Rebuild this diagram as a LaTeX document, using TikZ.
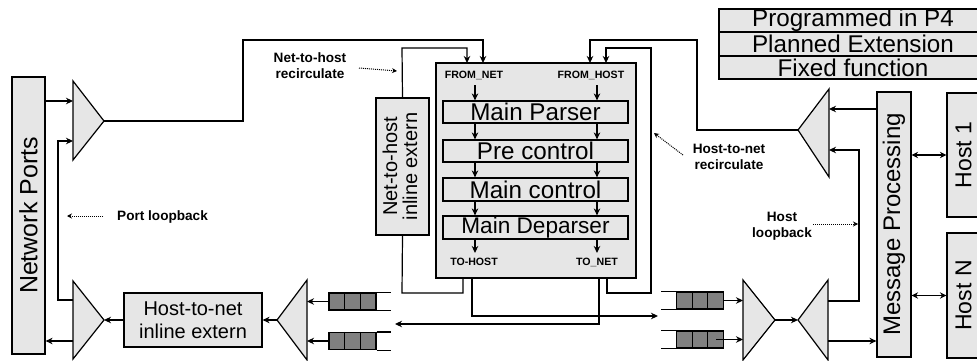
\documentclass[tikz,border=0pt]{standalone}
\usepackage{fontspec}
\setmainfont{Liberation Sans}
\usetikzlibrary{arrows.meta}
\definecolor{lg}{HTML}{E6E6E6}
\definecolor{dg}{HTML}{808080}
\begin{document}
\begin{tikzpicture}[x=1pt,y=-1pt,
  lw/.style={line width=1.2pt},
  box/.style={draw, fill=lg, line width=1.2pt, inner sep=0pt, align=center},
  tri/.style={draw, fill=lg, line width=1.2pt, line join=miter},
  qblk/.style={draw, fill=dg, line width=1.2pt, minimum width=47pt, minimum height=17pt, inner sep=0pt},
  arr/.style={line width=1.2pt, -{Stealth[length=7pt,width=6.5pt]}},
  darr/.style={line width=1.2pt, {Stealth[length=6.5pt,width=6.5pt]}-{Stealth[length=6.5pt,width=6.5pt]}},
  dotarr/.style={line width=1pt, dash pattern=on 1pt off 1pt, -{Stealth[length=5pt,width=5pt]}},
  lbl/.style={font=\fontsize{13.6}{16}\selectfont\bfseries, align=center, inner sep=0pt},
  tinylbl/.style={font=\fontsize{10.6}{12}\selectfont\bfseries, inner sep=0pt},
  big/.style={font=\fontsize{24.2}{26}\selectfont},
  mid/.style={font=\fontsize{20}{23}\selectfont},
]
\clip (0,0) rectangle (977,361);
\fill[white] (0,0) rectangle (977,361);

% legend
\node[box, big, minimum width=268pt, minimum height=23pt] (lp4) at (853,20.5) {Programmed in P4};
\node[box, big, minimum width=268pt, minimum height=24pt] (lpe) at (853,44) {Planned Extension};
\node[box, big, minimum width=268pt, minimum height=23pt] (lff) at (853,67.5) {Fixed function};

% network ports
\node[box, minimum width=33pt, minimum height=277pt, font=\fontsize{25}{28}\selectfont] (np) at (28.5,215.5) {\rotatebox{90}{Network Ports}};

% triangles
\draw[tri] (73,81) -- (104,121) coordinate (t1apex) -- (73,160) -- cycle;
\draw[tri] (73,281) -- (104,320) coordinate (t2apex) -- (73,359) -- cycle;
\draw[tri] (307,280) -- (277,320) coordinate (t3apex) -- (307,360) -- cycle;
\draw[tri] (743,280) -- (775,320) coordinate (t4apex) -- (743,360) -- cycle;
\draw[tri] (828,280) -- (798,320) coordinate (t5apex) -- (828,360) -- cycle;
\draw[tri] (829,89) -- (798,130) coordinate (t6apex) -- (829,177) -- cycle;
\coordinate (t1in1) at (73,101);
\coordinate (t1in2) at (73,141);
\coordinate (t2lo) at (73,300);
\coordinate (t2out) at (73,341);
\coordinate (t3e) at (307,320);
\coordinate (t4w) at (743,320);
\coordinate (t5o1) at (828,301);
\coordinate (t5o2) at (828,341);
\coordinate (t6in1) at (829,109);
\coordinate (t6in2) at (829,150);

% host-to-net extern
\node[box, mid, minimum width=138pt, minimum height=54pt] (hn) at (193,320) {Host-to-net\\inline extern};

% net-to-host extern
\node[box, mid, minimum width=53pt, minimum height=137pt] (nh) at (402.5,166.5) {\rotatebox{90}{\begin{tabular}{@{}c@{}}Net-to-host\\[-3pt]inline extern\end{tabular}}};

% queues left
\foreach \n/\y in {ql1/301.5, ql2/341} {
  \node[qblk] (\n) at (352.5,\y) {};
  \draw[lw] ([xshift=-7.8pt]\n.north) -- ([xshift=-7.8pt]\n.south);
  \draw[lw] ([xshift=7.8pt]\n.north) -- ([xshift=7.8pt]\n.south);
  \draw[lw] (\n.north east) -- ++(14,0);
  \draw[lw] (\n.south east) -- ++(14,0);
}
% queues right
\foreach \n/\y in {qr1/300.5, qr2/339.5} {
  \node[qblk] (\n) at (700,\y) {};
  \draw[lw] ([xshift=-7.8pt]\n.north) -- ([xshift=-7.8pt]\n.south);
  \draw[lw] ([xshift=7.8pt]\n.north) -- ([xshift=7.8pt]\n.south);
  \draw[lw] (\n.north west) -- ++(-15,0);
  \draw[lw] (\n.south west) -- ++(-15,0);
}

% main block
\node[box, minimum width=200pt, minimum height=215pt] (main) at (536,170.5) {};
\node[box, big, minimum width=185pt, minimum height=22pt] (parser) at (535.5,112) {Main Parser};
\node[box, big, minimum width=185pt, minimum height=22pt] (pre) at (535.5,151) {Pre control};
\node[box, big, minimum width=185pt, minimum height=23pt] (ctl) at (535.5,189.5) {Main control};
\node[box, font=\fontsize{22.6}{24}\selectfont, minimum width=185pt, minimum height=23pt] (dep) at (535.5,227.5) {Main Deparser};
\node[tinylbl] (fnet) at (474,75) {FROM\_NET};
\node[tinylbl] (fhost) at (591,75) {FROM\_HOST};
\node[tinylbl] (thost) at (474,262) {TO-HOST};
\node[tinylbl] (tnet) at (597,262) {TO\_NET};
\coordinate (cl) at (475,0);
\coordinate (cr) at (597,0);
\draw[arr] (cl |- 0,85) -- (cl |- parser.north);
\draw[arr] (cr |- 0,85) -- (cr |- parser.north);
\draw[arr] (cl |- parser.south) -- (cl |- pre.north);
\draw[arr] (cr |- parser.south) -- (cr |- pre.north);
\draw[arr] (cl |- pre.south) -- (cl |- ctl.north);
\draw[arr] (cr |- pre.south) -- (cr |- ctl.north);
\draw[arr] (cl |- ctl.south) -- (cl |- dep.north);
\draw[arr] (cr |- ctl.south) -- (cr |- dep.north);
\draw[arr] (cl |- dep.south) -- (cl |- 0,253);
\draw[arr] (cr |- dep.south) -- (cr |- 0,253);

% message processing and hosts
\node[box, font=\fontsize{24}{27}\selectfont, minimum width=34pt, minimum height=265pt] (mp) at (894,224.5) {\rotatebox{90}{Message Processing}};
\node[box, font=\fontsize{23}{26}\selectfont, minimum width=33pt, minimum height=124pt] (h1) at (963.5,155) {\rotatebox{90}{Host 1}};
\node[box, font=\fontsize{23}{26}\selectfont, minimum width=33pt, minimum height=125pt] (hN) at (963.5,295.5) {\rotatebox{90}{Host N}};
\draw[darr] (mp.east |- h1.west) -- (h1.west);
\draw[darr] (mp.east |- hN.west) -- (hN.west);

% main-block top entry points
\coordinate (fnA) at (467,63);
\coordinate (fnB) at (483,63);
\coordinate (fhA) at (590,63);
\coordinate (fhB) at (606,63);
% main-block bottom exit points
\coordinate (tA) at (463,278);
\coordinate (tB) at (472,278);
\coordinate (tC) at (599,278);
\coordinate (tD) at (607,278);

% connectors left side
\draw[arr] (np.east |- t1in1) -- (t1in1);
\draw[arr] (t2lo) -- ++(-15,0) |- (t1in2);
\draw[arr] (t2out) -- (np.east |- t2out);
\draw[arr] (hn.west) -- (t2apex);
\draw[arr] (t3apex) -- (hn.east);
\draw[arr] (ql1.west) -- (ql1.west -| t3e);
\draw[arr] (ql2.west) -- (ql2.west -| t3e);

% connectors right side
\draw[arr] (qr1.east) -- (qr1.east -| t4w);
\draw[arr] ([xshift=-8pt]qr2.east) -- (qr2.east -| t4w);
\draw[arr] (t4apex) -- (t5apex);
\draw[arr] (t5o1) -- ++(31,0) |- (t6in2);
\draw[arr] (t5o2) -- (mp.west |- t5o2);
\draw[arr] (mp.west |- t6in1) -- (t6in1);

% recirculation paths
\draw[arr] (t1apex) -- (243,121) -- (243,40) -- (483,40) -- (fnB);
\draw[arr] (nh.north) -- (402,48) -- (467,48) -- (fnA);
\draw[lw] (tA) -- (463,293) -- (402,293) -- (nh.south);
\draw[arr] (tB) -- (472,316) -- (658,316);
\draw[arr] (tC) -- (599,324) -- (395,324);
\draw[arr] (tD) -- (607,293) -- (651,293) -- (651,48) -- (606,48) -- (fhB);
\draw[arr] (t6apex) -- (697,130) -- (697,40) -- (590,40) -- (fhA);

% labels
\node[lbl] (lnh) at (310,66) {Net-to-host\\recirculate};
\draw[dotarr] (359,68) -- (397,71);
\node[lbl, anchor=west] (lpl) at (117,217) {Port loopback};
\draw[dotarr] (103,216) -- (67,216);
\node[lbl] (lhn) at (729,157) {Host-to-net\\recirculate};
\draw[dotarr] (683,155) -- (654,133);
\node[lbl] (lhl) at (782,226) {Host\\loopback};
\draw[dotarr] (813,224) -- (858,224);
\end{tikzpicture}
\end{document}
